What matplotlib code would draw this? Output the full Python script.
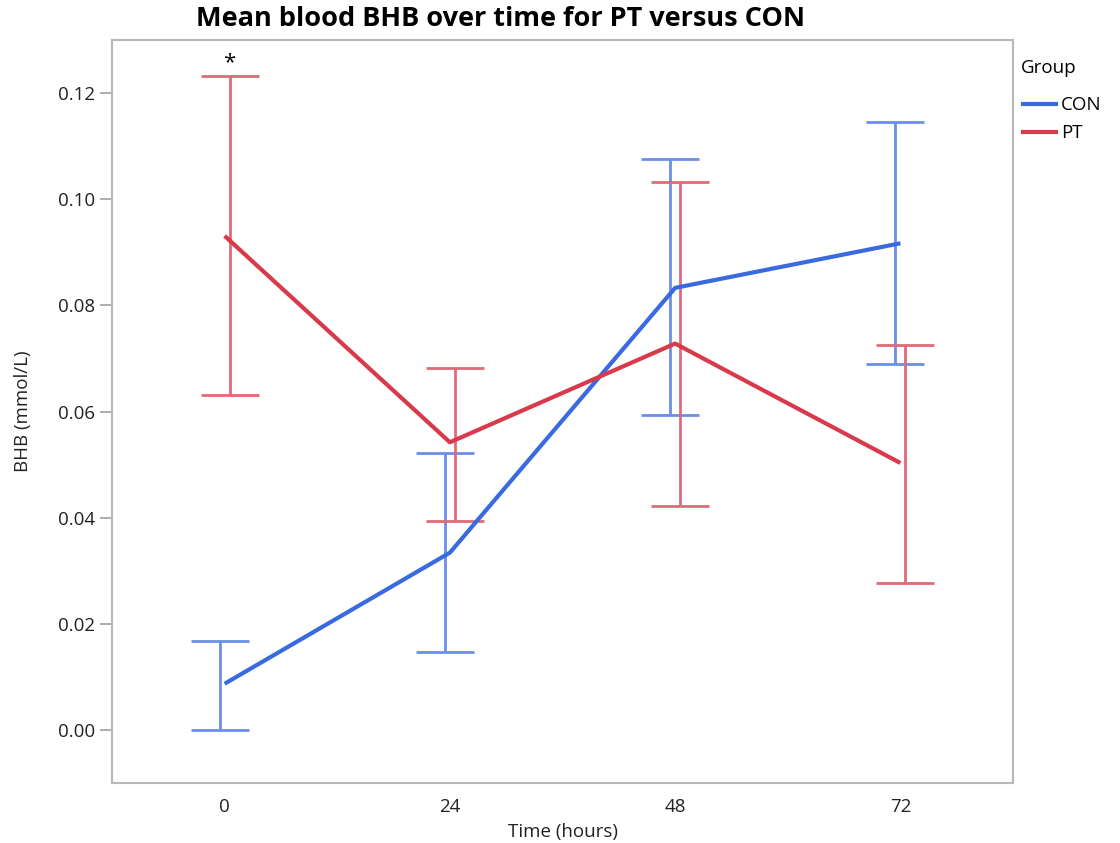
import matplotlib
matplotlib.use("Agg")
import matplotlib.pyplot as plt
import numpy as np

plt.rcParams['font.family'] = ['Open Sans', 'DejaVu Sans']

times = ["0", "24", "48", "72"]
groups = ["CON", "PT"]
con_mean = [0.0087, 0.0334, 0.0833, 0.0917]
con_upper = [0.0167, 0.0521, 0.1075, 0.1146]
con_lower = [0.0000, 0.0147, 0.0594, 0.0690]
pt_mean = [0.0931, 0.0542, 0.0728, 0.0503]
pt_upper = [0.1232, 0.0682, 0.1032, 0.0725]
pt_lower = [0.0632, 0.0394, 0.0422, 0.0276]
yticks = [0.00, 0.02, 0.04, 0.06, 0.08, 0.10, 0.12]

blue = "#3a6ae0"
red = "#d83a4c"
blue_eb = "#6b8ee8"
red_eb = "#e06a78"

fig = plt.figure(figsize=(11.2, 8.43), dpi=100)
ax = fig.add_axes([0.1, 0.0712, 0.8045, 0.8813])

x = np.arange(len(times))
off = 0.022

series = [
    ("CON", con_mean, con_upper, con_lower, blue, blue_eb, -off),
    ("PT", pt_mean, pt_upper, pt_lower, red, red_eb, off),
]
for name, m, up, lo, c, ce, o in series:
    m = np.array(m); up = np.array(up); lo = np.array(lo)
    ax.errorbar(x + o, m, yerr=[m - lo, up - m], fmt='none', ecolor=ce,
                elinewidth=2, capsize=21, capthick=2, zorder=2)
    ax.plot(x, m, color=c, lw=3, label=name, zorder=3, solid_capstyle='butt')

ax.text(x[0] + off, pt_upper[0] + 0.0006, "*", ha='center', va='bottom',
        fontsize=16, color='black')

ax.set_xlim(-0.5, 3.5)
ax.set_ylim(-0.01, 0.13)
ax.set_xticks(x)
ax.set_xticklabels(times)
ax.set_yticks(yticks)
ax.set_yticklabels([f"{v:.2f}" for v in yticks])
ax.tick_params(axis='x', length=0, labelsize=13.5, pad=11, colors='#222222')
ax.tick_params(axis='y', length=9, width=1.2, color='#a0a0a0', labelsize=13.5, pad=3,
               labelcolor='#222222')
for s in ax.spines.values():
    s.set_color('#b8b8b8')
    s.set_linewidth(1.5)

ax.set_xlabel("Time (hours)", fontsize=13.5, color='#222222', labelpad=5)
ax.set_ylabel("BHB (mmol/L)", fontsize=13.5, color='#222222', labelpad=19)

fig.text(0.447, 0.978, "Mean blood BHB over time for PT versus CON",
         ha='center', va='center', fontsize=19.5, fontweight='bold')

leg = ax.legend(title="Group", loc='upper left', bbox_to_anchor=(1.0, 0.985),
                frameon=False, fontsize=13.5, title_fontsize=13.5,
                handlelength=2.0, handletextpad=0.15, borderaxespad=0.0,
                labelspacing=0.55)
leg._legend_box.align = "left"
leg._legend_box.sep = 14

fig.savefig("out.png", dpi=100)
